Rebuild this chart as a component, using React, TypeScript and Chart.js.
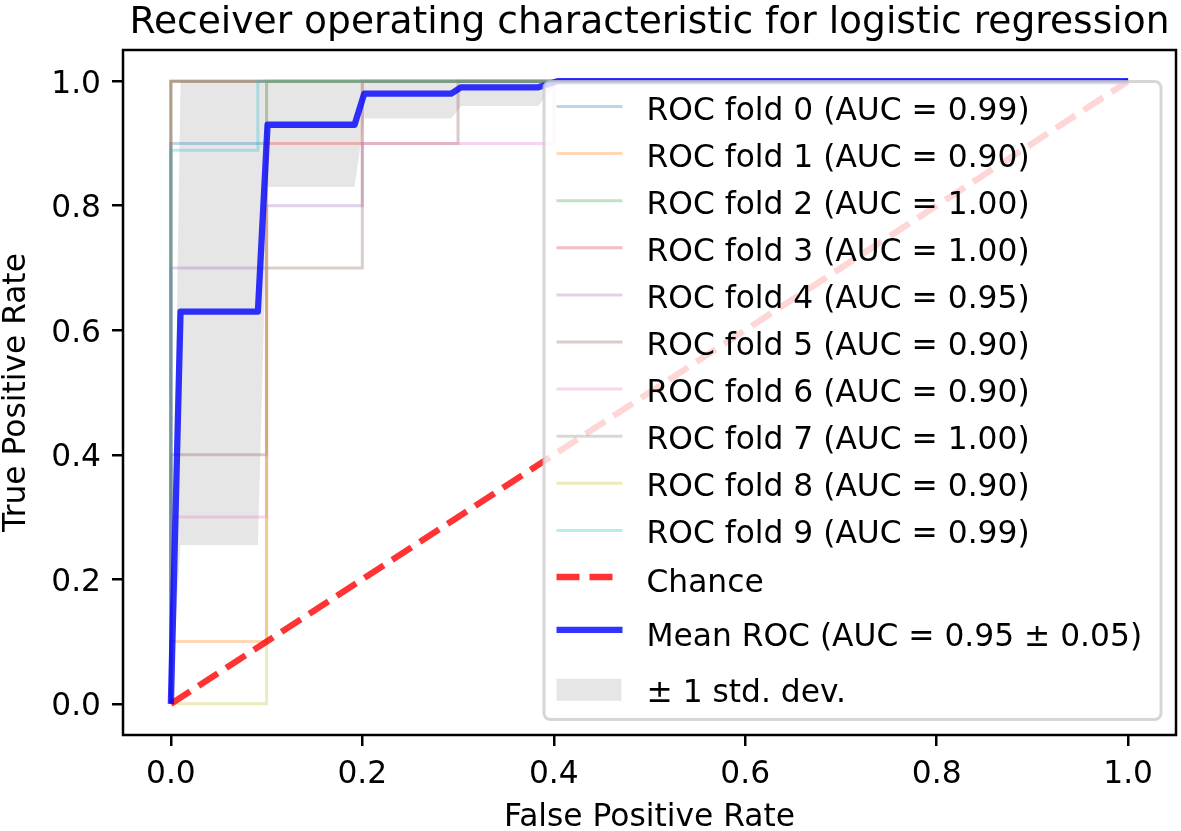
import React, { useEffect, useRef } from 'react';
import { Chart, registerables } from 'chart.js';

Chart.register(...registerables);

const FONT = '"DejaVu Sans", "Liberation Sans", sans-serif';

const TITLE = 'Receiver operating characteristic for logistic regression';
const X_LABEL = 'False Positive Rate';
const Y_LABEL = 'True Positive Rate';
const X_TICKS = [0, 0.2, 0.4, 0.6, 0.8, 1.0];
const Y_TICKS = [0, 0.2, 0.4, 0.6, 0.8, 1.0];

const FOLD_LABELS = [
  'ROC fold 0 (AUC = 0.99)',
  'ROC fold 1 (AUC = 0.90)',
  'ROC fold 2 (AUC = 1.00)',
  'ROC fold 3 (AUC = 1.00)',
  'ROC fold 4 (AUC = 0.95)',
  'ROC fold 5 (AUC = 0.90)',
  'ROC fold 6 (AUC = 0.90)',
  'ROC fold 7 (AUC = 1.00)',
  'ROC fold 8 (AUC = 0.90)',
  'ROC fold 9 (AUC = 0.99)',
];
const FOLD_COLORS = [
  '#1f77b4', '#ff7f0e', '#2ca02c', '#d62728', '#9467bd',
  '#8c564b', '#e377c2', '#7f7f7f', '#bcbd22', '#17becf',
];
const FOLD_FPR = [
  [0, 0, 0.1, 0.1, 1],
  [0, 0, 0.1, 0.1, 0.2, 0.2, 1],
  [0, 0, 1],
  [0, 0, 1],
  [0, 0, 0.1, 0.1, 0.2, 0.2, 1],
  [0, 0, 0.1, 0.1, 0.2, 0.2, 0.3, 0.3, 1],
  [0, 0, 0.1, 0.1, 0.4, 0.4, 1],
  [0, 0, 1],
  [0, 0.1, 0.1, 1],
  [0, 0, 0.0909, 0.0909, 1],
];
const FOLD_TPR = [
  [0, 0.9, 0.9, 1, 1],
  [0, 0.1, 0.1, 0.9, 0.9, 1, 1],
  [0, 1, 1],
  [0, 1, 1],
  [0, 0.7, 0.7, 0.8, 0.8, 1, 1],
  [0, 0.4, 0.4, 0.7, 0.7, 0.9, 0.9, 1, 1],
  [0, 0.3, 0.3, 0.9, 0.9, 1, 1],
  [0, 1, 1],
  [0, 0, 1, 1],
  [0, 0.889, 0.889, 1, 1],
];

const CHANCE_LABEL = 'Chance';
const CHANCE_X = [0, 1];
const CHANCE_Y = [0, 1];

const MEAN_LABEL = 'Mean ROC (AUC = 0.95 ± 0.05)';
const MEAN_FPR = [0, 0.0101, 0.0909, 0.101, 0.1919, 0.202, 0.2929, 0.303, 0.3838, 0.404, 1.0];
const MEAN_TPR = [0, 0.63, 0.63, 0.93, 0.93, 0.98, 0.98, 0.99, 0.99, 1.0, 1.0];
const STD_LABEL = '± 1 std. dev.';
const STD_LOWER = [0, 0.255, 0.255, 0.83, 0.83, 0.94, 0.94, 0.96, 0.96, 1.0, 1.0];
const STD_UPPER = [0, 1, 1, 1, 1, 1, 1, 1, 1, 1, 1];

function hexA(hex: string, a: number) {
  const r = parseInt(hex.slice(1, 3), 16);
  const g = parseInt(hex.slice(3, 5), 16);
  const b = parseInt(hex.slice(5, 7), 16);
  return `rgba(${r},${g},${b},${a})`;
}

const pts = (xs: number[], ys: number[]) => xs.map((x, i) => ({ x, y: ys[i] }));

const FOLD_LW = 3;
const MEAN_LW = 6.3;
const MEAN_COLOR = 'rgba(0,0,255,0.8)';
const CHANCE_COLOR = 'rgba(255,0,0,0.8)';
const CHANCE_DASH = [23, 10];
const BAND_COLOR = 'rgba(128,128,128,0.2)';

const decorPlugin = {
  id: 'decor',
  afterDraw(chart: any) {
    const ctx: CanvasRenderingContext2D = chart.ctx;
    const a = chart.chartArea;
    ctx.save();
    // spines
    ctx.strokeStyle = '#000';
    ctx.lineWidth = 2.5;
    ctx.strokeRect(a.left, a.top, a.right - a.left, a.bottom - a.top);

    // title & axis labels
    ctx.fillStyle = '#000';
    ctx.textBaseline = 'alphabetic';
    ctx.textAlign = 'center';
    ctx.font = `37.6px ${FONT}`;
    ctx.fillText(TITLE, (a.left + a.right) / 2, a.top - 17);
    ctx.font = `31.3px ${FONT}`;
    ctx.fillText(X_LABEL, (a.left + a.right) / 2, a.bottom + 91);
    ctx.save();
    ctx.translate(25, (a.top + a.bottom) / 2);
    ctx.rotate(-Math.PI / 2);
    ctx.fillText(Y_LABEL, 0, 0);
    ctx.restore();

    // legend
    const w = 617;
    const h = 638;
    const right = a.right - 15;
    const bottom = a.bottom - 15.5;
    const left = right - w;
    const top = bottom - h;
    const rad = 6.3;
    ctx.beginPath();
    ctx.moveTo(left + rad, top);
    ctx.lineTo(right - rad, top);
    ctx.arcTo(right, top, right, top + rad, rad);
    ctx.lineTo(right, bottom - rad);
    ctx.arcTo(right, bottom, right - rad, bottom, rad);
    ctx.lineTo(left + rad, bottom);
    ctx.arcTo(left, bottom, left, bottom - rad, rad);
    ctx.lineTo(left, top + rad);
    ctx.arcTo(left, top, left + rad, top, rad);
    ctx.closePath();
    ctx.fillStyle = 'rgba(255,255,255,0.8)';
    ctx.fill();
    ctx.strokeStyle = 'rgba(204,204,204,0.8)';
    ctx.lineWidth = 3;
    ctx.stroke();

    const hx0 = left + 12.5;
    const hx1 = left + 78.5;
    const tx = left + 102.5;
    ctx.font = `31.3px ${FONT}`;
    ctx.textAlign = 'left';
    ctx.fillStyle = '#000';

    const drawLineHandle = (y: number, color: string, lw: number, dash: number[]) => {
      ctx.save();
      ctx.beginPath();
      ctx.setLineDash(dash);
      ctx.strokeStyle = color;
      ctx.lineWidth = lw;
      ctx.moveTo(hx0, y);
      ctx.lineTo(hx1, y);
      ctx.stroke();
      ctx.restore();
    };

    FOLD_LABELS.forEach((lab, i) => {
      const y = top + 25 + 47.1 * i;
      drawLineHandle(y, hexA(FOLD_COLORS[i], 0.3), FOLD_LW, []);
      ctx.fillStyle = '#000';
      ctx.fillText(lab, tx, y + 13);
    });
    const yc = top + 495.5;
    drawLineHandle(yc, CHANCE_COLOR, MEAN_LW, CHANCE_DASH);
    ctx.fillStyle = '#000';
    ctx.fillText(CHANCE_LABEL, tx, yc + 14.5);

    const ym = top + 548.3;
    drawLineHandle(ym, MEAN_COLOR, MEAN_LW, []);
    ctx.fillStyle = '#000';
    ctx.fillText(MEAN_LABEL, tx, ym + 16);

    const ys = top + 608.3;
    ctx.fillStyle = BAND_COLOR;
    ctx.fillRect(hx0, ys - 11, hx1 - hx0 - 1, 22);
    ctx.fillStyle = '#000';
    ctx.fillText(STD_LABEL, tx, ys + 12.5);

    ctx.restore();
  },
};

export default function App() {
  const ref = useRef<HTMLCanvasElement | null>(null);

  useEffect(() => {
    if (!ref.current) return;
    Chart.defaults.font.family = FONT;

    const datasets: any[] = [];
    datasets.push({
      label: MEAN_LABEL,
      data: pts(MEAN_FPR, MEAN_TPR),
      borderColor: MEAN_COLOR,
      borderWidth: MEAN_LW,
      borderJoinStyle: 'round',
      pointRadius: 0,
      tension: 0,
      fill: false,
      order: 0,
    });
    datasets.push({
      label: CHANCE_LABEL,
      data: pts(CHANCE_X, CHANCE_Y),
      borderColor: CHANCE_COLOR,
      borderWidth: MEAN_LW,
      borderDash: CHANCE_DASH,
      pointRadius: 0,
      tension: 0,
      fill: false,
      order: 1,
    });
    FOLD_LABELS.forEach((lab, i) => {
      datasets.push({
        label: lab,
        data: pts(FOLD_FPR[i], FOLD_TPR[i]),
        borderColor: hexA(FOLD_COLORS[i], 0.3),
        borderWidth: FOLD_LW,
        pointRadius: 0,
        tension: 0,
        fill: false,
        order: 12 - i,
      });
    });
    datasets.push({
      label: 'lower',
      data: pts(MEAN_FPR, STD_LOWER),
      borderColor: 'rgba(0,0,0,0)',
      borderWidth: 1,
      pointRadius: 0,
      tension: 0,
      fill: false,
      order: 100,
    });
    datasets.push({
      label: STD_LABEL,
      data: pts(MEAN_FPR, STD_UPPER),
      borderColor: 'rgba(0,0,0,0)',
      backgroundColor: BAND_COLOR,
      borderWidth: 1,
      pointRadius: 0,
      tension: 0,
      fill: '-1',
      order: 100,
    });

    const tickFont = { size: 31.3, family: FONT };
    const chart = new Chart(ref.current, {
      type: 'line',
      data: { datasets },
      plugins: [decorPlugin],
      options: {
        animation: false,
        responsive: false,
        events: [],
        layout: { padding: { top: 50, right: 5, bottom: 0, left: 0 } },
        plugins: {
          legend: { display: false },
          title: { display: false },
          tooltip: { enabled: false },
        },
        scales: {
          x: {
            type: 'linear',
            min: -0.05,
            max: 1.05,
            afterBuildTicks: (s: any) => {
              s.ticks = X_TICKS.map((v) => ({ value: v }));
            },
            afterFit: (s: any) => {
              s.height = 96;
            },
            ticks: {
              autoSkip: false,
              maxRotation: 0,
              color: '#000',
              font: tickFont,
              padding: 10,
              callback: (v: any) => Number(v).toFixed(1),
            },
            grid: {
              display: true,
              drawOnChartArea: false,
              drawTicks: true,
              tickLength: 11,
              lineWidth: 2.5,
              color: '#000',
            },
            border: { display: false },
          },
          y: {
            type: 'linear',
            min: -0.05,
            max: 1.05,
            afterBuildTicks: (s: any) => {
              s.ticks = Y_TICKS.map((v) => ({ value: v }));
            },
            afterFit: (s: any) => {
              s.width = 123;
            },
            ticks: {
              autoSkip: false,
              color: '#000',
              font: tickFont,
              padding: 11,
              labelOffset: 3.5,
              callback: (v: any) => Number(v).toFixed(1),
            },
            grid: {
              display: true,
              drawOnChartArea: false,
              drawTicks: true,
              tickLength: 11,
              lineWidth: 2.5,
              color: '#000',
            },
            border: { display: false },
          },
        },
      } as any,
    });
    return () => chart.destroy();
  }, []);

  return (
    <div style={{ position: 'fixed', left: 0, top: 0, width: 1181, height: 831, background: '#fff' }}>
      <canvas ref={ref} width={1181} height={831} style={{ display: 'block', width: 1181, height: 831 }} />
    </div>
  );
}
